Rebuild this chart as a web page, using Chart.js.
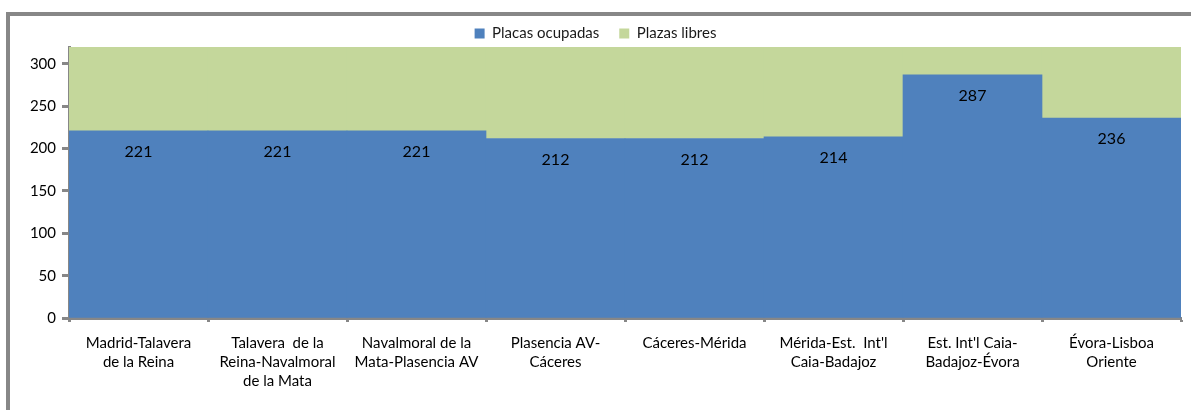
<!DOCTYPE html>
<html>
<head>
<meta charset="utf-8">
<script src="https://cdn.jsdelivr.net/npm/chart.js@4.4.0/dist/chart.umd.min.js"></script>
<style>
  html, body { margin: 0; padding: 0; background: #fff; }
  #wrap { position: relative; width: 1191px; height: 410px; overflow: hidden; }
  #marco { position: absolute; left: 6px; top: 12px; width: 1300px; height: 500px;
           border-top: 4px solid #878787; border-left: 4px solid #878787; }
  canvas { position: absolute; left: 0; top: 0; }
</style>
</head>
<body>
<div id="wrap">
  <div id="marco"></div>
  <canvas id="grafico" width="1191" height="410"></canvas>
</div>
<script>
const tramos = [
  "Madrid-Talavera\nde la Reina",
  "Talavera  de la\nReina-Navalmoral\nde la Mata",
  "Navalmoral de la\nMata-Plasencia AV",
  "Plasencia AV-\nCáceres",
  "Cáceres-Mérida",
  "Mérida-Est.  Int'l\nCaia-Badajoz",
  "Est. Int'l Caia-\nBadajoz-Évora",
  "Évora-Lisboa\nOriente"
];
const ocupadas = [221, 221, 221, 212, 212, 214, 287, 236];
const libres = [99, 99, 99, 108, 108, 106, 33, 84];

const fuente = "Lato, 'Noto Sans', sans-serif";
const gris = "#878787";

// numero dentro de la parte alta de cada barra azul
const etiquetas = {
  id: "etiquetas",
  afterDatasetsDraw(chart) {
    const ctx = chart.ctx;
    const meta = chart.getDatasetMeta(0);
    ctx.save();
    ctx.font = "16px " + fuente;
    ctx.fillStyle = "#000";
    ctx.textAlign = "center";
    ctx.textBaseline = "middle";
    meta.data.forEach((barra, i) => {
      ctx.fillText(String(ocupadas[i]), barra.x, barra.y + 21);
    });
    ctx.restore();
  }
};

new Chart(document.getElementById("grafico"), {
  type: "bar",
  data: {
    labels: tramos.map(t => t.split("\n")),
    datasets: [
      { label: "Placas ocupadas", data: ocupadas, backgroundColor: "#4F81BD" },
      { label: "Plazas libres", data: libres, backgroundColor: "#C4D79B" }
    ]
  },
  options: {
    responsive: false,
    animation: false,
    devicePixelRatio: 1,
    layout: { padding: { top: 6, left: 10, right: 10, bottom: 0 } },
    datasets: { bar: { barPercentage: 1, categoryPercentage: 1, borderWidth: 0 } },
    plugins: {
      legend: {
        position: "top",
        maxHeight: 41,
        labels: {
          boxWidth: 10, boxHeight: 10, padding: 20,
          color: "#1a1a1a",
          font: { family: fuente, size: 15 }
        }
      },
      tooltip: { enabled: false }
    },
    scales: {
      x: {
        stacked: true,
        afterFit: s => { s.height = 92; },
        grid: { offset: true, drawOnChartArea: false, tickLength: 4, tickWidth: 3, tickColor: gris },
        border: { display: true, color: gris, width: 3 },
        ticks: {
          color: "#000", maxRotation: 0, autoSkip: false, padding: 12,
          font: { family: fuente, size: 15, lineHeight: 1.27 }
        }
      },
      y: {
        stacked: true,
        min: 0, max: 320,
        afterFit: s => { s.width = 59; },
        grid: { drawOnChartArea: false, tickLength: 7, tickWidth: 3, tickColor: gris },
        border: { display: true, color: gris, width: 3 },
        ticks: {
          stepSize: 50, includeBounds: false, padding: 6, color: "#000",
          font: { family: fuente, size: 15 }
        }
      }
    }
  },
  plugins: [etiquetas]
});
</script>
</body>
</html>
